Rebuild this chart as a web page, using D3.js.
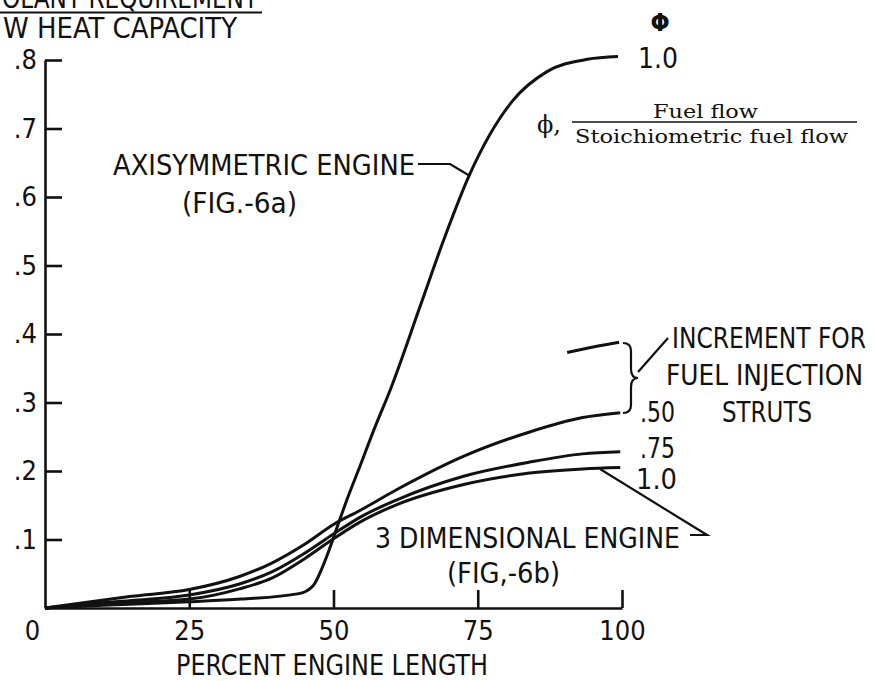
<!DOCTYPE html>
<html>
<head>
<meta charset="utf-8">
<script src="https://cdn.jsdelivr.net/npm/d3@7"></script>
<style>
  body { margin: 0; background: #fff; }
  svg { display: block; }
  .lbl { font-family: "Liberation Sans Narrow", "DejaVu Sans Condensed", "Roboto", sans-serif; fill: #111; }
  .serif { font-family: "DejaVu Serif", "Liberation Serif", serif; fill: #111; }
</style>
</head>
<body>
<div id="chart"></div>
<script>
"use strict";

// percent engine length (x) and coolant ratio (y)
const axi_pct = [0, 10, 25, 34, 44, 46.5, 48, 49.3, 51, 52.5, 54.5, 57, 60, 65, 69, 73.6, 81, 87, 94, 99.3];
const axi_val = [0, 0.004, 0.009, 0.013, 0.021, 0.033, 0.058, 0.086, 0.127, 0.162, 0.205, 0.26, 0.322, 0.44, 0.535, 0.633, 0.74, 0.783, 0.801, 0.805];

const dim_pct = [0, 6, 15, 25, 33.7, 39.4, 45, 50, 54.5, 61, 72.4, 84, 93.2, 99.7];
const dim_050 = [0, 0.007, 0.017, 0.027, 0.046, 0.066, 0.093, 0.122, 0.142, 0.173, 0.221, 0.257, 0.278, 0.285];
const dim_075 = [0, 0.005, 0.011, 0.019, 0.035, 0.053, 0.08, 0.108, 0.132, 0.158, 0.192, 0.213, 0.225, 0.228];
const dim_100 = [0, 0.003, 0.008, 0.013, 0.028, 0.044, 0.072, 0.101, 0.125, 0.151, 0.18, 0.197, 0.203, 0.205];

// increment for fuel injection struts
const strut_pct = [90.5, 95, 99.5];
const strut_val = [0.373, 0.381, 0.388];

const x_ticks = [0, 25, 50, 75, 100];
const y_ticks = [0.1, 0.2, 0.3, 0.4, 0.5, 0.6, 0.7, 0.8];

const width = 875;
const height = 681;

const svg = d3.select("#chart")
    .append("svg")
    .attr("width", width)
    .attr("height", height);

const x = d3.scaleLinear().domain([0, 100]).range([45, 622]);
const y = d3.scaleLinear().domain([0, 0.8]).range([608, 60]);

// axes
const xAxis = svg.append("g")
    .attr("transform", `translate(0,${y(0)})`)
    .call(d3.axisBottom(x).tickValues(x_ticks).tickSizeInner(-18).tickSizeOuter(0).tickPadding(13));

const yAxis = svg.append("g")
    .attr("transform", `translate(${x(0)},0)`)
    .call(d3.axisLeft(y).tickValues(y_ticks).tickSizeInner(-17).tickSizeOuter(0).tickPadding(8)
        .tickFormat(d => d3.format(".1f")(d).replace(/^0/, "")));

[xAxis, yAxis].forEach(g => {
  g.selectAll("path, line").attr("stroke", "#111").attr("stroke-width", 2.6);
  g.selectAll("text")
      .attr("class", "lbl")
      .style("font-size", "27px")
      .attr("fill", "#111");
});
xAxis.selectAll(".tick").filter(d => d === 0).select("line").remove();
xAxis.selectAll(".tick").filter(d => d === 0).select("text").attr("x", -13);

// curves
const line = d3.line()
    .x(d => x(d[0]))
    .y(d => y(d[1]))
    .curve(d3.curveMonotoneX);

const series = [
  d3.zip(axi_pct, axi_val),
  d3.zip(dim_pct, dim_050),
  d3.zip(dim_pct, dim_075),
  d3.zip(dim_pct, dim_100),
  d3.zip(strut_pct, strut_val)
];

svg.selectAll(".curve")
    .data(series)
    .enter()
    .append("path")
    .attr("class", "curve")
    .attr("d", line)
    .attr("fill", "none")
    .attr("stroke", "#111")
    .attr("stroke-width", 3);

// leaders and brace
const leaders = [
  "M418,164 L450,164 L470,176",
  "M638,372 L668,338",
  "M600,469 L707,535 L690,535",
  "M623,343 q8,0 8,8 v18 q0,9 7,9 q-7,0 -7,9 v18 q0,8 -8,8"
];
svg.selectAll(".leader")
    .data(leaders)
    .enter()
    .append("path")
    .attr("class", "leader")
    .attr("d", d => d)
    .attr("fill", "none")
    .attr("stroke", "#111")
    .attr("stroke-width", 2.2);

// text labels
const label = function(txt, px, py, len, size, cls){
  const t = svg.append("text")
      .attr("class", cls || "lbl")
      .attr("x", px)
      .attr("y", py)
      .style("font-size", size + "px")
      .text(txt);
  if (len) t.attr("textLength", len).attr("lengthAdjust", "spacingAndGlyphs");
  return t;
};

// y title, cut at the page edge as in the scan
label("OLANT REQUIREMENT", 2, 8, 256, 28);
label("W HEAT CAPACITY", 3, 38, 234, 28);
svg.append("line")
    .attr("x1", 0).attr("x2", 262)
    .attr("y1", 12.5).attr("y2", 12.5)
    .attr("stroke", "#111").attr("stroke-width", 2);

label("AXISYMMETRIC ENGINE", 113, 175, 302, 28);
label("(FIG.-6a)", 182, 213, 115, 28);
label("3 DIMENSIONAL ENGINE", 375, 548, 305, 28);
label("(FIG,-6b)", 447, 583, 113, 28);
label("INCREMENT FOR", 672, 348, 194, 28);
label("FUEL INJECTION", 666, 385, 197, 28);
label("STRUTS", 722, 422, 90, 28);
label(".50", 640, 422, 35, 28);
label(".75", 640, 458, 35, 28);
label("1.0", 636, 489, 41, 28);
label("1.0", 638, 68, 40, 29);
label("\u03A6", 660, 31, null, 25).attr("text-anchor", "middle").style("font-weight", "bold");
label("PERCENT ENGINE LENGTH", 176, 675, 312, 28);

label("\u03D5,", 537, 133, null, 24, "serif");
label("Fuel flow", 653, 118, 105, 19, "serif");
label("Stoichiometric fuel flow", 575, 143, 273, 19, "serif");
svg.append("line")
    .attr("x1", 572).attr("x2", 857)
    .attr("y1", 122).attr("y2", 122)
    .attr("stroke", "#111").attr("stroke-width", 1.5);
</script>
</body>
</html>
